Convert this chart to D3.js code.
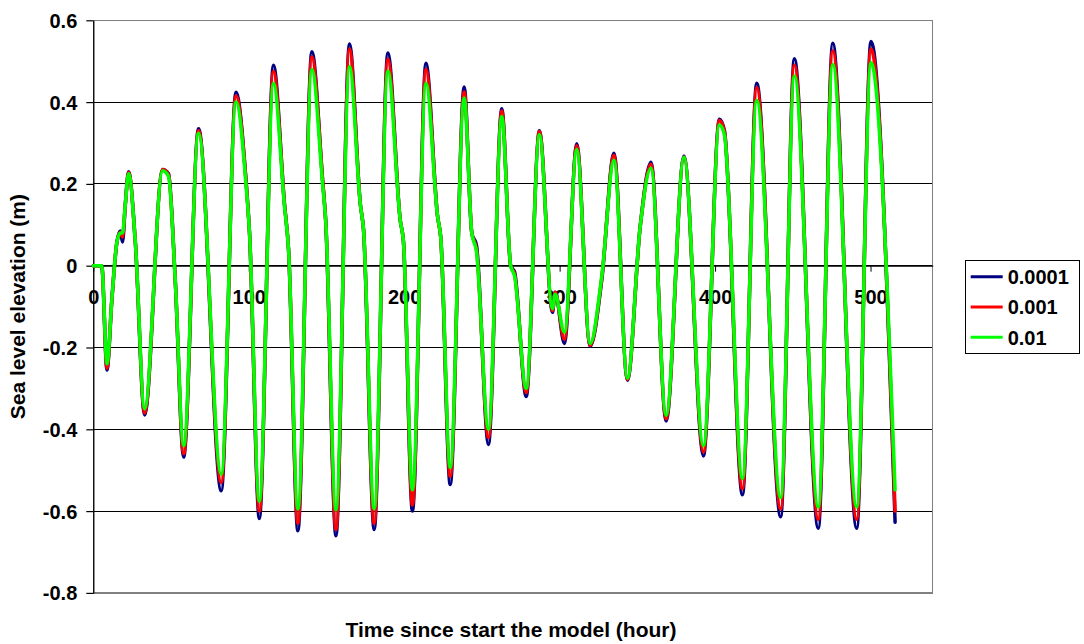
<!DOCTYPE html>
<html>
<head>
<meta charset="utf-8">
<script src="https://cdn.jsdelivr.net/npm/d3@7"></script>
<style>
  body { margin: 0; background: #ffffff; }
  svg { display: block; }
  text { font-family: Arial, "Liberation Sans", sans-serif; font-weight: bold; fill: #000; }
</style>
</head>
<body>
<svg id="chart" width="1084" height="644"></svg>
<script>
// Model time (hours) at each sampled point of the sea level record
const hours = [
  0, 5.4, 8.8, 12.0, 15.2, 17.4, 18.8, 20.6, 22.7, 27.0,
  33.0, 44.6, 48.4, 52.7, 58.1, 67.7, 82.3, 91.8, 98.0, 100.5,
  106.8, 115.9, 123.0, 125.6, 131.6, 140.6, 147.5, 149.5, 156.1, 164.8,
  171.8, 173.8, 180.7, 189.5, 197.5, 199.5, 205.3, 214.0, 221.5, 223.5,
  229.6, 238.6, 243.5, 246.5, 254.2, 262.8, 268.5, 271.0, 278.5, 287.0,
  295.4, 297.1, 303.1, 311.0, 319.6, 327.1, 335.0, 343.6, 351.8, 358.8,
  368.5, 380.0, 392.5, 402.8, 406.0, 417.6, 426.8, 442.2, 451.0, 466.4,
  475.7, 491.1, 500.3, 515.8
];

// Sea level elevation (m) for each friction setting
const run0001 = [
  0, 0, -0.255, -0.08, 0.058, 0.085, 0.058, 0.15, 0.23, 0.06,
  -0.365, 0.235, 0.225, -0.034, -0.468, 0.335, -0.55, 0.424, 0.22, 0.08,
  -0.618, 0.49, 0.15, 0.04, -0.648, 0.523, 0.21, 0.11, -0.66, 0.542,
  0.15, 0.09, -0.645, 0.52, 0.11, 0.06, -0.60, 0.495, 0.12, 0.07,
  -0.535, 0.437, 0.08, 0.05, -0.437, 0.384, 0.0, -0.015, -0.32, 0.33,
  -0.114, -0.065, -0.19, 0.298, -0.197, -0.035, 0.275, -0.28, 0.095, 0.253,
  -0.38, 0.268, -0.465, 0.358, 0.33, -0.56, 0.446, -0.614, 0.506, -0.642,
  0.544, -0.642, 0.548, -0.627
];
const run001 = [
  0, 0, -0.25, -0.08, 0.058, 0.082, 0.07, 0.15, 0.228, 0.06,
  -0.36, 0.235, 0.222, -0.034, -0.46, 0.33, -0.53, 0.415, 0.22, 0.08,
  -0.60, 0.475, 0.15, 0.04, -0.63, 0.51, 0.21, 0.11, -0.645, 0.53,
  0.15, 0.09, -0.63, 0.505, 0.11, 0.06, -0.585, 0.48, 0.12, 0.07,
  -0.515, 0.425, 0.08, 0.04, -0.42, 0.378, 0.0, -0.02, -0.31, 0.328,
  -0.11, -0.065, -0.18, 0.293, -0.195, -0.03, 0.27, -0.278, 0.095, 0.248,
  -0.375, 0.266, -0.455, 0.355, 0.328, -0.545, 0.435, -0.595, 0.49, -0.62,
  0.525, -0.62, 0.53, -0.60
];
const run01 = [
  0, 0, -0.24, -0.08, 0.058, 0.08, 0.08, 0.15, 0.225, 0.06,
  -0.35, 0.232, 0.218, -0.034, -0.44, 0.324, -0.51, 0.40, 0.21, 0.08,
  -0.576, 0.446, 0.145, 0.04, -0.595, 0.48, 0.2, 0.11, -0.597, 0.487,
  0.15, 0.09, -0.594, 0.476, 0.11, 0.06, -0.548, 0.446, 0.12, 0.07,
  -0.493, 0.41, 0.08, 0.035, -0.40, 0.365, 0.0, -0.025, -0.30, 0.32,
  -0.105, -0.07, -0.163, 0.284, -0.19, -0.026, 0.258, -0.275, 0.095, 0.238,
  -0.366, 0.265, -0.44, 0.344, 0.32, -0.52, 0.404, -0.567, 0.464, -0.59,
  0.492, -0.59, 0.497, -0.548
];

const seriesNames = ["0.0001", "0.001", "0.01"];
const xTicks = [0, 100, 200, 300, 400, 500];
const yTicks = [-0.8, -0.6, -0.4, -0.2, 0, 0.2, 0.4, 0.6];

const xTitle = "Time since start the model (hour)";
const yTitle = "Sea level elevation (m)";

// Styling
const lineColors = ["#000080", "#ff0000", "#00ff00"];
const plot = { left: 93.3, right: 932.7, top: 20.3, bottom: 592.9 };

const svg = d3.select("#chart");

const x = d3.scaleLinear().domain([0, 540]).range([plot.left, plot.right]);
const y = d3.scaleLinear().domain([-0.8, 0.6]).range([plot.bottom, plot.top]);

// Horizontal gridlines (interior only, the frame covers top and bottom)
svg.append("g")
  .selectAll("line")
  .data(yTicks.filter(v => v > -0.8 && v < 0.6))
  .join("line")
  .attr("x1", plot.left).attr("x2", plot.right)
  .attr("y1", d => y(d)).attr("y2", d => y(d))
  .attr("stroke", "#000").attr("stroke-width", 1)
  .attr("shape-rendering", "crispEdges");

// Plot frame
svg.append("rect")
  .attr("x", plot.left).attr("y", plot.top)
  .attr("width", plot.right - plot.left).attr("height", plot.bottom - plot.top)
  .attr("fill", "none").attr("stroke", "#808080").attr("stroke-width", 1.3)
  .attr("shape-rendering", "crispEdges");

const fmt = d => String(+(+d).toFixed(1));

// Y axis
const yAxis = svg.append("g")
  .attr("transform", `translate(${plot.left},0)`)
  .call(d3.axisLeft(y).tickValues(yTicks).tickSize(7).tickPadding(9).tickSizeOuter(0).tickFormat(fmt));
yAxis.select(".domain").attr("stroke", "#000").attr("stroke-width", 1.3);
yAxis.selectAll(".tick line").attr("stroke", "#000").attr("stroke-width", 1.2);
yAxis.selectAll(".tick text")
  .attr("font-size", 20).attr("font-weight", "bold")
  .attr("font-family", "Arial, 'Liberation Sans', sans-serif")
  .attr("dy", "0.35em").attr("fill", "#000");

// X axis through zero
const xAxis = svg.append("g")
  .attr("transform", `translate(0,${y(0)})`)
  .call(d3.axisBottom(x).tickValues(xTicks).tickSize(6).tickPadding(18).tickSizeOuter(0).tickFormat(d3.format("d")));
xAxis.select(".domain").attr("stroke", "#000").attr("stroke-width", 1.2);
xAxis.selectAll(".tick line").attr("stroke", "#000").attr("stroke-width", 1);
xAxis.selectAll(".tick text")
  .attr("font-size", 20).attr("font-weight", "bold")
  .attr("font-family", "Arial, 'Liberation Sans', sans-serif")
  .attr("fill", "#000");

// Series
const series = [run0001, run001, run01].map((vals, i) => ({
  name: seriesNames[i],
  color: lineColors[i],
  points: hours.map((h, j) => [h, vals[j]])
}));

const line = d3.line()
  .x(d => x(d[0]))
  .y(d => y(d[1]))
  .curve(d3.curveMonotoneX);

svg.append("g")
  .selectAll("path")
  .data(series)
  .join("path")
  .attr("d", d => line(d.points))
  .attr("fill", "none")
  .attr("stroke", d => d.color)
  .attr("stroke-width", 3.5)
  .attr("stroke-linejoin", "round")
  .attr("stroke-linecap", "round");

// Axis titles
svg.append("text")
  .attr("x", (plot.left + plot.right) / 2 - 2)
  .attr("y", 637)
  .attr("text-anchor", "middle")
  .attr("font-size", 21)
  .text(xTitle);

svg.append("text")
  .attr("transform", `translate(25,${(plot.top + plot.bottom) / 2}) rotate(-90)`)
  .attr("text-anchor", "middle")
  .attr("font-size", 21)
  .text(yTitle);

// Legend
const legend = svg.append("g");
legend.append("rect")
  .attr("x", 965).attr("y", 260).attr("width", 114).attr("height", 93)
  .attr("fill", "#fff").attr("stroke", "#000").attr("stroke-width", 1)
  .attr("shape-rendering", "crispEdges");
const rows = legend.selectAll("g.row")
  .data(series)
  .join("g")
  .attr("class", "row")
  .attr("transform", (d, i) => `translate(0,${276.7 + i * 30.3})`);
rows.append("line")
  .attr("x1", 970.7).attr("x2", 1002.7)
  .attr("stroke", d => d.color).attr("stroke-width", 3);
rows.append("text")
  .attr("x", 1007.7).attr("y", 7.2)
  .attr("font-size", 20)
  .text(d => d.name);
</script>
</body>
</html>
